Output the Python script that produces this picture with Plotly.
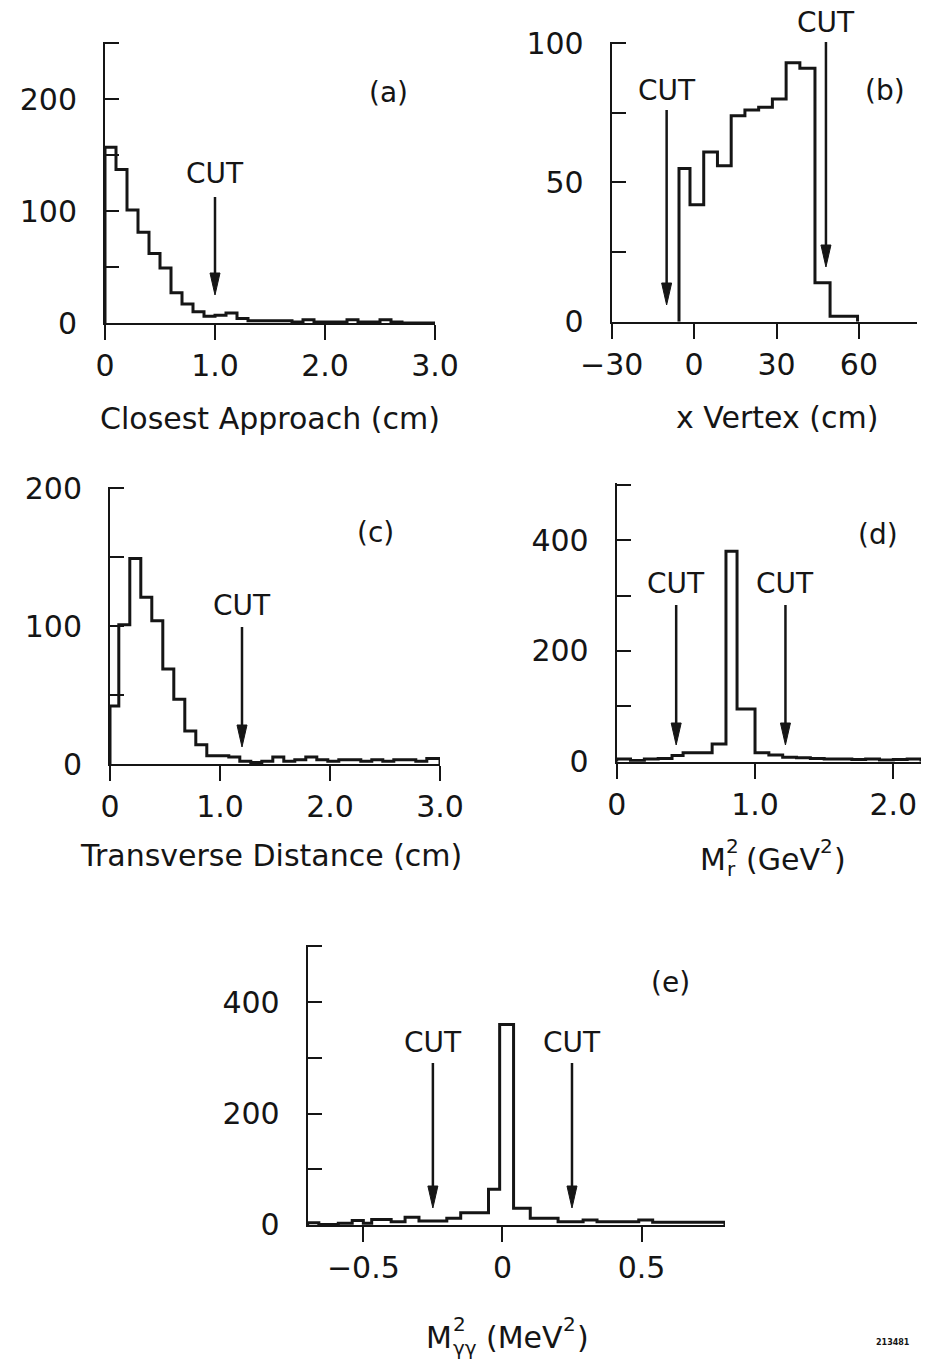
import plotly.graph_objects as go

W, H = 926, 1361
FONT = "DejaVu Sans"
INK = "#151515"

# ---------------- data ----------------
# (a) closest approach (cm)
a_edges = [0.0, 0.1, 0.2, 0.3, 0.4, 0.5, 0.6, 0.7, 0.8, 0.9, 1.0, 1.1, 1.2, 1.3, 1.4, 1.5,
           1.6, 1.7, 1.8, 1.9, 2.0, 2.1, 2.2, 2.3, 2.4, 2.5, 2.6, 2.7, 2.8, 2.9, 3.0]
a_counts = [157, 137, 101, 81, 62, 49, 27, 17, 10, 6, 7, 9, 4, 2, 2, 2, 2, 1, 3, 1,
            1, 1, 3, 1, 1, 3, 1, 0, 0, 0]
a_cuts = [1.0]

# (b) x vertex (cm)
b_edges = [-5.5, -1.5, 3.5, 8.5, 13.5, 18.5, 23.5, 28.5, 33.5, 38.5, 44.0, 49.5, 59.5]
b_counts = [55, 42, 61, 56, 74, 76, 77, 80, 93, 91, 14, 2]
b_cuts = [-10, 48]

# (c) transverse distance (cm)
c_edges = [0.0, 0.08, 0.18, 0.28, 0.38, 0.48, 0.58, 0.68, 0.78, 0.88, 0.98, 1.08, 1.18,
           1.28, 1.38, 1.48, 1.58, 1.68, 1.78, 1.88, 1.98, 2.08, 2.18, 2.28, 2.38, 2.48,
           2.58, 2.68, 2.78, 2.88, 3.0]
c_counts = [42, 101, 149, 121, 104, 69, 47, 24, 14, 6, 6, 5, 2, 1, 2, 5, 2, 3, 5, 3,
            2, 3, 3, 2, 3, 2, 3, 3, 2, 4]
c_cuts = [1.2]

# (d) recoil mass squared (GeV^2)
d_edges = [0.0, 0.1, 0.2, 0.3, 0.4, 0.48, 0.69, 0.79, 0.87, 1.0, 1.1, 1.2, 1.3, 1.4,
           1.5, 1.6, 1.7, 1.8, 1.9, 2.0, 2.1, 2.2]
d_counts = [5, 2, 5, 6, 11, 16, 32, 380, 95, 16, 12, 8, 7, 6, 5, 5, 4, 5, 3, 4, 5]
d_cuts = [0.43, 1.22]

# (e) two-photon mass squared (MeV^2)
e_edges = [-0.7, -0.66, -0.59, -0.54, -0.5, -0.47, -0.4, -0.35, -0.3, -0.2, -0.15,
           -0.05, -0.01, 0.04, 0.1, 0.2, 0.29, 0.34, 0.49, 0.54, 0.8]
e_counts = [4, 1, 3, 8, 3, 10, 6, 14, 7, 12, 22, 64, 360, 30, 12, 6, 9, 6, 9, 5]
e_cuts = [-0.25, 0.25]

# tick definitions: labelled ticks plus unlabelled minor step on y
a_xticks, a_xlabels = [0, 1, 2, 3], ["0", "1.0", "2.0", "3.0"]
a_yticks, a_ylabels, a_ystep = [0, 100, 200], ["0", "100", "200"], 50
b_xticks, b_xlabels = [-30, 0, 30, 60], ["\u221230", "0", "30", "60"]
b_yticks, b_ylabels, b_ystep = [0, 50, 100], ["0", "50", "100"], 25
c_xticks, c_xlabels = [0, 1, 2, 3], ["0", "1.0", "2.0", "3.0"]
c_yticks, c_ylabels, c_ystep = [0, 100, 200], ["0", "100", "200"], 50
d_xticks, d_xlabels = [0, 1, 2], ["0", "1.0", "2.0"]
d_yticks, d_ylabels, d_ystep = [0, 200, 400], ["0", "200", "400"], 100
e_xticks, e_xlabels = [-0.5, 0, 0.5], ["\u22120.5", "0", "0.5"]
e_yticks, e_ylabels, e_ystep = [0, 200, 400], ["0", "200", "400"], 100


def px(x):
    return x / W


def py(y):
    return 1 - y / H


# panel frames: x pixel span, x range, y pixel of zero and of the top tick, y range
panels = [
    dict(edges=a_edges, counts=a_counts, cuts=a_cuts, xpx=(105, 435), xr=[0, 3.0],
         ypx=(323, 43), ytop=250, xt=(a_xticks, a_xlabels),
         yt=(a_yticks, a_ylabels, a_ystep),
         tag="(a)", tagpos=(388, 93), cutpx=[(173, 197, 295)]),
    dict(edges=b_edges, counts=b_counts, cuts=b_cuts, xpx=(611.7, 916.6), xr=[-30, 81],
         ypx=(321.7, 43.3), ytop=100, xt=(b_xticks, b_xlabels),
         yt=(b_yticks, b_ylabels, b_ystep),
         tag="(b)", tagpos=(885, 90), cutpx=[(90, 110, 305), (23, 42, 267)]),
    dict(edges=c_edges, counts=c_counts, cuts=c_cuts, xpx=(110, 440), xr=[0, 3.0],
         ypx=(764, 488.3), ytop=200, xt=(c_xticks, c_xlabels),
         yt=(c_yticks, c_ylabels, c_ystep),
         tag="(c)", tagpos=(375, 532), cutpx=[(605, 627, 747)]),
    dict(edges=d_edges, counts=d_counts, cuts=d_cuts, xpx=(616.7, 921), xr=[0, 2.2],
         ypx=(761.7, 484.7), ytop=500, xt=(d_xticks, d_xlabels),
         yt=(d_yticks, d_ylabels, d_ystep),
         tag="(d)", tagpos=(878, 534), cutpx=[(583, 605, 745), (583, 605, 745)]),
    dict(edges=e_edges, counts=e_counts, cuts=e_cuts, xpx=(307.7, 725), xr=[-0.7, 0.8],
         ypx=(1225, 946.5), ytop=500, xt=(e_xticks, e_xlabels),
         yt=(e_yticks, e_ylabels, e_ystep),
         tag="(e)", tagpos=(670, 982), cutpx=[(1042, 1063, 1208), (1042, 1063, 1208)]),
]

fig = go.Figure()
annotations = []
shapes = []
TICKFONT = dict(family=FONT, size=30, color=INK)
TAGFONT = dict(family=FONT, size=28, color=INK)
PAD = 1.005  # let the top tick sit just inside the axis range

for i, p in enumerate(panels, start=1):
    xa = "x" if i == 1 else f"x{i}"
    ya = "y" if i == 1 else f"y{i}"
    xs = [p["edges"][0]] + list(p["edges"])
    ys = [0] + list(p["counts"]) + [0]
    fig.add_trace(go.Scatter(x=xs, y=ys, mode="lines", xaxis=xa, yaxis=ya,
                             line=dict(shape="hv", color=INK, width=3),
                             hoverinfo="skip", showlegend=False))

    y0px, ytpx = p["ypx"]
    ytop_px = y0px - (y0px - ytpx) * PAD
    xkey = "xaxis" if i == 1 else f"xaxis{i}"
    ykey = "yaxis" if i == 1 else f"yaxis{i}"
    fig.update_layout(**{
        xkey: dict(domain=[px(p["xpx"][0]), px(p["xpx"][1])], range=p["xr"], anchor=ya,
                   showline=True, linecolor=INK, linewidth=2, showgrid=False, zeroline=False,
                   ticks="outside", ticklen=15, tickwidth=2, tickcolor=INK,
                   tickmode="array", tickvals=p["xt"][0], ticktext=p["xt"][1],
                   tickfont=TICKFONT, ticklabelstandoff=0, automargin=False, fixedrange=True),
        ykey: dict(domain=[py(y0px), py(ytop_px)], range=[0, p["ytop"] * PAD], anchor=xa,
                   showline=True, linecolor=INK, linewidth=2, showgrid=False, zeroline=False,
                   ticks="inside", ticklen=14, tickwidth=2, tickcolor=INK,
                   tickmode="array", tickvals=p["yt"][0], ticktext=p["yt"][1],
                   minor=dict(tick0=0, dtick=p["yt"][2], ticks="inside", ticklen=14,
                              tickwidth=2, tickcolor=INK, showgrid=False),
                   tickfont=TICKFONT, ticklabelstandoff=20, automargin=False, fixedrange=True),
    })

    # panel tag
    annotations.append(dict(text=p["tag"], x=px(p["tagpos"][0]), y=py(p["tagpos"][1]),
                            xref="paper", yref="paper", showarrow=False,
                            xanchor="center", yanchor="middle", font=TAGFONT))

    # cut markers: label, shaft and head
    for cut, (ty, tail, tip) in zip(p["cuts"], p["cutpx"]):
        annotations.append(dict(text="CUT", x=cut, xref=xa, y=py(ty), yref="paper",
                                xanchor="center", yanchor="middle",
                                showarrow=False, font=TAGFONT))
        shapes.append(dict(type="line", xref=xa, yref="paper", x0=cut, x1=cut,
                           y0=py(tail), y1=py(tip - 12), line=dict(color=INK, width=2.5)))
        shapes.append(dict(type="path", xref=xa, yref="paper", xsizemode="pixel",
                           ysizemode="pixel", xanchor=cut, yanchor=py(tip),
                           path="M-5,22 L5,22 L0,0 Z", fillcolor=INK,
                           line=dict(color=INK, width=1)))

TITLEFONT = dict(family=FONT, size=30, color=INK)
SMALL = dict(family=FONT, size=20, color=INK)


def label(text, x, y, font, xanchor="center"):
    annotations.append(dict(text=text, x=px(x), y=py(y), xref="paper", yref="paper",
                            showarrow=False, font=font, xanchor=xanchor, yanchor="middle"))


label("Closest Approach (cm)", 270, 418, TITLEFONT)
label("x Vertex (cm)", 777, 417, TITLEFONT)
label("Transverse Distance (cm)", 271, 855, TITLEFONT)

# M^2_r (GeV^2)
label("M", 698, 859, TITLEFONT, xanchor="left")
label("2", 724, 846, SMALL, xanchor="left")
label("r", 725, 869, SMALL, xanchor="left")
label("(GeV", 744, 859, TITLEFONT, xanchor="left")
label("2", 818, 846, SMALL, xanchor="left")
label(")", 832, 859, TITLEFONT, xanchor="left")

# M^2_gg (MeV^2)
label("M", 424, 1337, TITLEFONT, xanchor="left")
label("2", 451, 1324, SMALL, xanchor="left")
label("\u03b3\u03b3", 451, 1348, SMALL, xanchor="left")
label("(MeV", 484, 1337, TITLEFONT, xanchor="left")
label("2", 561, 1324, SMALL, xanchor="left")
label(")", 575, 1337, TITLEFONT, xanchor="left")

label("<b>213481</b>", 893, 1342, dict(family=FONT, size=8, color=INK))

fig.update_layout(width=W, height=H, margin=dict(l=0, r=0, t=0, b=0),
                  paper_bgcolor="white", plot_bgcolor="white",
                  annotations=annotations, shapes=shapes, showlegend=False)

fig.write_html("out.html")
